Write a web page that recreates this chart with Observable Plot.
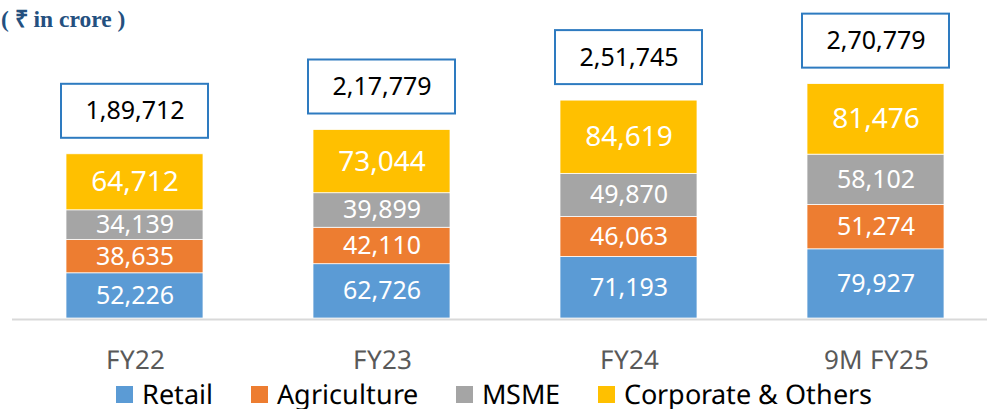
<!DOCTYPE html>
<html>
<head>
<meta charset="utf-8">
<script src="https://cdn.jsdelivr.net/npm/d3@7"></script>
<script src="https://cdn.jsdelivr.net/npm/@observablehq/plot@0.6"></script>
<style>
  @font-face {
    font-family: "NotoTight";
    src: local("Noto Sans"), local("Noto Sans Regular"), local("NotoSans-Regular");
    ascent-override: 90%;
    descent-override: 17%;
    line-gap-override: 0%;
  }
  html, body { margin: 0; padding: 0; background: #fff; }
  #wrap { position: relative; width: 987px; height: 409px; font-family: "Noto Sans", sans-serif; }
  #title { position: absolute; left: 1px; top: 8px; font-family: "Liberation Serif", serif; font-weight: bold; font-size: 23.5px; line-height: 1; color: #24507F; white-space: nowrap; }
  #legend { position: absolute; left: 0; top: 380px; width: 987px; display: flex; justify-content: center; align-items: center; font-family: "NotoTight", "Noto Sans", sans-serif; font-size: 27px; line-height: normal; color: #000; }
  .item { display: flex; align-items: center; margin: 0 19px; flex: none; }
  .item span { white-space: nowrap; }
  .sw { width: 17px; height: 17px; margin-right: 9px; flex: none; }
</style>
</head>
<body>
<div id="wrap">
  <div id="chart"></div>
  <div id="title">( ₹ in crore )</div>
  <div id="legend"></div>
</div>
<script>
const years = ["FY22", "FY23", "FY24", "9M FY25"];
const segments = ["Retail", "Agriculture", "MSME", "Corporate & Others"];
const colors = ["#5B9BD5", "#ED7D31", "#A5A5A5", "#FFC000"];
const retail = [52226, 62726, 71193, 79927];
const agriculture = [38635, 42110, 46063, 51274];
const msme = [34139, 39899, 49870, 58102];
const corporate = [64712, 73044, 84619, 81476];
const totals = [189712, 217779, 251745, 270779];

const series = [retail, agriculture, msme, corporate];

function fmtIN(n) {
  const s = String(Math.round(n));
  if (s.length <= 3) return s;
  const last3 = s.slice(-3);
  let rest = s.slice(0, -3);
  const parts = [];
  while (rest.length > 2) { parts.unshift(rest.slice(-2)); rest = rest.slice(0, -2); }
  if (rest.length) parts.unshift(rest);
  return parts.join(",") + "," + last3;
}

const rows = [];
years.forEach((yr, i) => {
  segments.forEach((seg, j) => rows.push({year: yr, segment: seg, value: series[j][i]}));
});
const totalRows = years.map((yr, i) => ({year: yr, total: totals[i]}));

const chart = Plot.plot({
  width: 987,
  height: 380,
  marginLeft: 12,
  marginRight: 0,
  marginTop: 0,
  marginBottom: 62,
  style: {fontFamily: "Noto Sans", background: "transparent", overflow: "visible"},
  x: {domain: years, paddingInner: 0.4453, paddingOuter: 0.196, align: 0.557, axis: null},
  y: {domain: [0, 367400], axis: null},
  color: {domain: segments, range: colors},
  marks: [
    Plot.barY(rows, {x: "year", y: "value", fill: "segment", stroke: "white", strokeWidth: 0.75}),
    Plot.ruleY([0], {stroke: "#D9D9D9", strokeWidth: 2, dy: 1}),
    Plot.text(rows, Plot.stackY({
      x: "year", y: "value", z: "segment",
      text: d => fmtIN(d.value),
      fill: "white",
      fontSize: d => d.segment === "Corporate & Others" ? 28 : 25
    })),
    Plot.barY(totalRows, {
      x: "year", y1: "total", y2: "total",
      insetTop: -70, insetBottom: 16, insetLeft: -5, insetRight: -5,
      fill: "white", stroke: "#2E7BC0", strokeWidth: 2
    }),
    Plot.text(totalRows, {x: "year", y: "total", text: d => fmtIN(d.total), dy: -43, fontSize: 25, fill: "black"}),
    Plot.text(years, {x: d => d, frameAnchor: "bottom", lineAnchor: "top", dy: 32, fontSize: 26, fill: "#595959",
      fontFamily: "NotoTight, Noto Sans, sans-serif", text: d => d})
  ]
});
document.getElementById("chart").appendChild(chart);

const legend = document.getElementById("legend");
segments.forEach((seg, j) => {
  const item = document.createElement("div");
  item.className = "item";
  const sw = document.createElement("div");
  sw.className = "sw";
  sw.style.background = colors[j];
  const t = document.createElement("span");
  t.textContent = seg;
  item.appendChild(sw);
  item.appendChild(t);
  legend.appendChild(item);
});
</script>
</body>
</html>
